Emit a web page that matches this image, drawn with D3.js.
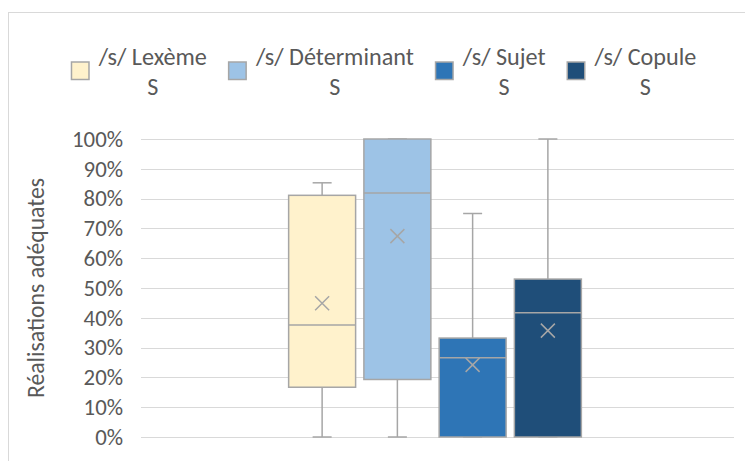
<!DOCTYPE html>
<html>
<head>
<meta charset="utf-8">
<script src="https://cdn.jsdelivr.net/npm/d3@7"></script>
<style>
  html, body { margin: 0; padding: 0; background: #fff; }
  svg { display: block; }
  text { font-family: Carlito, "Open Sans", sans-serif; fill: #595959; }
</style>
</head>
<body>
<svg id="chart" width="745" height="461"></svg>
<script>
// ---- data ----
const seriesLine1 = ["/s/ Lexème", "/s/ Déterminant", "/s/ Sujet", "/s/ Copule"];
const seriesLine2 = ["S", "S", "S", "S"];
const colors = ["#FFF2CC", "#9DC3E6", "#2E75B6", "#1F4E79"];
const minVals    = [0.00, 0.00, 0.00, 0.00];
const q1Vals     = [0.167, 0.193, 0.00, 0.00];
const medianVals = [0.376, 0.819, 0.266, 0.417];
const q3Vals     = [0.811, 1.00, 0.332, 0.530];
const maxVals    = [0.853, 1.00, 0.750, 1.00];
const meanVals   = [0.449, 0.674, 0.242, 0.357];
const yTicks = [0, 0.1, 0.2, 0.3, 0.4, 0.5, 0.6, 0.7, 0.8, 0.9, 1.0];
const yTitle = "Réalisations adéquates";

const svg = d3.select("#chart");
const gray = "#A6A6A6";
const FONT = 'Carlito, "Open Sans", sans-serif';

function fitSize(str, target) {
  const t = svg.append("text").attr("font-size", 100).style("font-family", FONT).text(str);
  const w = t.node().getComputedTextLength();
  t.remove();
  return 100 * target / w;
}
const tickSize = Math.min(24, fitSize("100%", 51));
const titleSize = Math.min(26, fitSize(yTitle, 220));
const legendSize = Math.min(26, fitSize(seriesLine1[1], 158));

// chart border (partially cropped)
svg.append("line").attr("x1", 8).attr("x2", 745).attr("y1", 12.5).attr("y2", 12.5)
  .attr("stroke", "#D9D9D9").attr("stroke-width", 1);
svg.append("line").attr("x1", 8.5).attr("x2", 8.5).attr("y1", 12).attr("y2", 461)
  .attr("stroke", "#D9D9D9").attr("stroke-width", 1);

const plot = { left: 141, right: 734, top: 139, bottom: 437 };
const y = d3.scaleLinear().domain([0, 1]).range([plot.bottom, plot.top]);
const idx = d3.range(seriesLine1.length);
const x = d3.scaleBand().domain(idx).range([284.5, 585.5]).paddingInner(0.11).paddingOuter(0.055);

// gridlines
svg.append("g").selectAll("line").data(yTicks).join("line")
  .attr("x1", plot.left).attr("x2", plot.right)
  .attr("y1", d => Math.round(y(d)) + 0.5).attr("y2", d => Math.round(y(d)) + 0.5)
  .attr("stroke", "#D9D9D9").attr("stroke-width", 1);

// y axis labels
const yAxis = d3.axisLeft(y).tickValues(yTicks).tickFormat(d3.format(".0%")).tickSize(0).tickPadding(0);
const gy = svg.append("g").attr("transform", `translate(123,0)`).call(yAxis);
gy.select(".domain").remove();
gy.selectAll("text").attr("font-size", tickSize).attr("fill", "#595959")
  .style("font-family", FONT);

// y title
svg.append("text")
  .attr("transform", `translate(${36 + titleSize * 0.33},${(plot.top + plot.bottom) / 2}) rotate(-90)`)
  .attr("text-anchor", "middle").attr("font-size", titleSize).text(yTitle);

// boxes
const bw = x.bandwidth();
const capW = 19;
const g = svg.append("g");
idx.forEach(i => {
  const cx = x(i) + bw / 2;
  g.append("line").attr("x1", cx).attr("x2", cx).attr("y1", y(q3Vals[i])).attr("y2", y(maxVals[i]))
    .attr("stroke", gray).attr("stroke-width", 1.5);
  g.append("line").attr("x1", cx).attr("x2", cx).attr("y1", y(q1Vals[i])).attr("y2", y(minVals[i]))
    .attr("stroke", gray).attr("stroke-width", 1.5);
  g.append("line").attr("x1", cx - capW / 2).attr("x2", cx + capW / 2).attr("y1", y(maxVals[i])).attr("y2", y(maxVals[i]))
    .attr("stroke", gray).attr("stroke-width", 1.5);
  g.append("line").attr("x1", cx - capW / 2).attr("x2", cx + capW / 2).attr("y1", y(minVals[i])).attr("y2", y(minVals[i]))
    .attr("stroke", gray).attr("stroke-width", 1.5);
  g.append("rect").attr("x", x(i)).attr("width", bw)
    .attr("y", y(q3Vals[i])).attr("height", y(q1Vals[i]) - y(q3Vals[i]))
    .attr("fill", colors[i]).attr("stroke", gray).attr("stroke-width", 1.5);
  g.append("line").attr("x1", x(i)).attr("x2", x(i) + bw).attr("y1", y(medianVals[i])).attr("y2", y(medianVals[i]))
    .attr("stroke", gray).attr("stroke-width", 1.5);
  const my = y(meanVals[i]), s = 7;
  g.append("path").attr("d", `M${cx - s},${my - s}L${cx + s},${my + s}M${cx - s},${my + s}L${cx + s},${my - s}`)
    .attr("stroke", gray).attr("stroke-width", 1.5).attr("fill", "none");
});

// legend
const leg = svg.append("g");
const sw = 19, gapSwText = 9, gapItems = 21;
const items = idx.map(i => {
  const t = leg.append("text").attr("font-size", legendSize).attr("text-anchor", "middle").attr("y", 65);
  t.append("tspan").attr("class", "l1").text(seriesLine1[i]);
  return t;
});
const widths = items.map(t => t.select(".l1").node().getComputedTextLength());
const total = d3.sum(widths) + idx.length * (sw + gapSwText) + (idx.length - 1) * gapItems;
let cur = 383.5 - total / 2;
idx.forEach(i => {
  leg.append("rect").attr("x", cur + 0.75).attr("y", 62).attr("width", sw - 1.5).attr("height", sw - 1.5)
    .attr("fill", colors[i]).attr("stroke", gray).attr("stroke-width", 1.5);
  const tc = cur + sw + gapSwText + widths[i] / 2;
  items[i].attr("x", tc);
  items[i].select(".l1").attr("x", tc);
  items[i].append("tspan").attr("x", tc).attr("y", 95).text(seriesLine2[i]);
  cur += sw + gapSwText + widths[i] + gapItems;
});
</script>
</body>
</html>
